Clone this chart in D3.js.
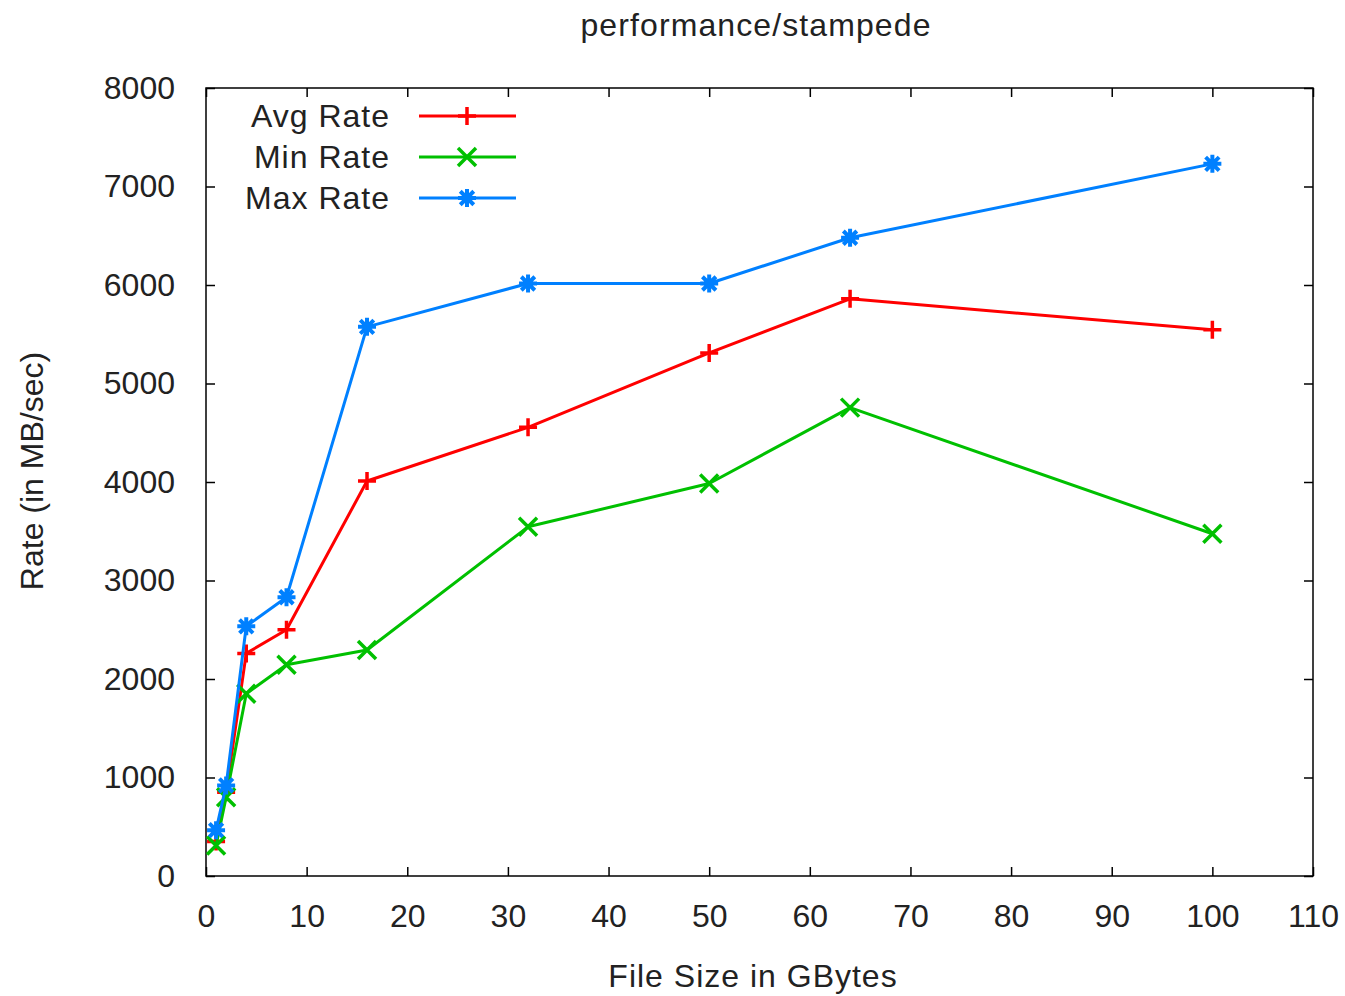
<!doctype html>
<html>
<head>
	<meta charset="utf-8">
	<title>performance/stampede</title>
	<style>
		body { margin: 0; background: #fff; }
		text { font-family: "Liberation Sans", Arial, sans-serif; fill: #222; }
		.label { letter-spacing: 1px; }
		.frame { fill: none; stroke: #000; stroke-width: 1.5; }
		.tick-mark { stroke: #000; stroke-width: 1.5; }
		.series { fill: none; stroke-width: 3; stroke-linejoin: round; }
	</style>
</head>
<body>
	<svg width="1345" height="996"></svg>

	<script src="https://d3js.org/d3.v7.min.js"></script>
	<script>

		// file sizes in GBytes
		const sizes = [ 1, 2, 4, 8, 16, 32, 50, 64, 100 ];

		const avgRate = [ 350, 850, 2260, 2500, 4010, 4555, 5310, 5860, 5545 ];
		const minRate = [ 310, 800, 1850, 2145, 2295, 3545, 3985, 4755, 3475 ];
		const maxRate = [ 465, 920, 2535, 2830, 5575, 6015, 6015, 6480, 7230 ];

		const xTicks = [ 0, 10, 20, 30, 40, 50, 60, 70, 80, 90, 100, 110 ];
		const yTicks = [ 0, 1000, 2000, 3000, 4000, 5000, 6000, 7000, 8000 ];

		const series = [
			{ name: "Avg Rate", values: avgRate, color: "#ff0000", marker: "plus" },
			{ name: "Min Rate", values: minRate, color: "#00c000", marker: "cross" },
			{ name: "Max Rate", values: maxRate, color: "#0080ff", marker: "star" }
		];

		const svg = d3.select( "svg" );

		const plotLeft = 206, plotRight = 1313, plotTop = 88, plotBottom = 876;

		const x = d3.scaleLinear().domain( [ 0, 110 ] ).range( [ plotLeft, plotRight ] );
		const y = d3.scaleLinear().domain( [ 0, 8000 ] ).range( [ plotBottom, plotTop ] );

		const tickLen = 9;

		// axes with inward ticks, mirrored like gnuplot
		const axisBottom = svg.append( "g" )
			.attr( "transform", "translate(0," + plotBottom + ")" )
			.call( d3.axisBottom( x ).tickValues( xTicks ).tickSizeInner( -tickLen ).tickSizeOuter( 0 ).tickPadding( 28 ).tickFormat( d3.format( "d" ) ) );

		const axisTop = svg.append( "g" )
			.attr( "transform", "translate(0," + plotTop + ")" )
			.call( d3.axisTop( x ).tickValues( xTicks ).tickSizeInner( -tickLen ).tickSizeOuter( 0 ).tickFormat( "" ) );

		const axisLeft = svg.append( "g" )
			.attr( "transform", "translate(" + plotLeft + ",0)" )
			.call( d3.axisLeft( y ).tickValues( yTicks ).tickSizeInner( -tickLen ).tickSizeOuter( 0 ).tickPadding( 31 ).tickFormat( d3.format( "d" ) ) );

		const axisRight = svg.append( "g" )
			.attr( "transform", "translate(" + plotRight + ",0)" )
			.call( d3.axisRight( y ).tickValues( yTicks ).tickSizeInner( -tickLen ).tickSizeOuter( 0 ).tickFormat( "" ) );

		[ axisBottom, axisTop, axisLeft, axisRight ].forEach( ( a ) => {
			a.select( ".domain" ).remove();
			a.selectAll( "line" ).attr( "class", "tick-mark" );
			a.selectAll( "text" )
				.style( "font-family", "'Liberation Sans', Arial, sans-serif" )
				.style( "font-size", "32px" )
				.attr( "fill", "#222" );
		});

		svg.append( "rect" )
			.attr( "class", "frame" )
			.attr( "x", plotLeft )
			.attr( "y", plotTop )
			.attr( "width", plotRight - plotLeft )
			.attr( "height", plotBottom - plotTop );

		// title and axis labels
		svg.append( "text" )
			.attr( "class", "label" )
			.attr( "x", 756 )
			.attr( "y", 36 )
			.attr( "text-anchor", "middle" )
			.style( "font-size", "32px" )
			.style( "letter-spacing", "1.1px" )
			.text( "performance/stampede" );

		svg.append( "text" )
			.attr( "class", "label" )
			.attr( "x", 753 )
			.attr( "y", 987 )
			.attr( "text-anchor", "middle" )
			.style( "font-size", "32px" )
			.text( "File Size in GBytes" );

		svg.append( "text" )
			.attr( "transform", "translate(43,471) rotate(-90)" )
			.attr( "text-anchor", "middle" )
			.style( "font-size", "32px" )
			.text( "Rate (in MB/sec)" );

		function drawMarker( sel, type, color ) {
			const s = 9;
			let d;
			if ( type === "plus" )
				d = "M" + -s + ",0H" + s + "M0," + -s + "V" + s;
			else if ( type === "cross" )
				d = "M" + -s + "," + -s + "L" + s + "," + s + "M" + -s + "," + s + "L" + s + "," + -s;
			else
				d = "M" + -s + ",0H" + s + "M0," + -s + "V" + s +
					"M" + -s * 0.75 + "," + -s * 0.75 + "L" + s * 0.75 + "," + s * 0.75 +
					"M" + -s * 0.75 + "," + s * 0.75 + "L" + s * 0.75 + "," + -s * 0.75;
			sel.append( "path" )
				.attr( "d", d )
				.attr( "fill", "none" )
				.attr( "stroke", color )
				.attr( "stroke-width", type === "star" ? 4 : 3.5 );
		}

		const line = d3.line()
			.x( ( d, i ) => x( sizes[ i ] ) )
			.y( ( d ) => y( d ) );

		series.forEach( ( s ) => {
			svg.append( "path" )
				.attr( "class", "series" )
				.attr( "stroke", s.color )
				.attr( "d", line( s.values ) );

			s.values.forEach( ( v, i ) => {
				const g = svg.append( "g" )
					.attr( "transform", "translate(" + x( sizes[ i ] ) + "," + y( v ) + ")" );
				drawMarker( g, s.marker, s.color );
			});
		});

		// legend
		const legend = svg.append( "g" );
		series.forEach( ( s, i ) => {
			const ly = 116 + i * 41;
			legend.append( "text" )
				.attr( "class", "label" )
				.attr( "x", 390 )
				.attr( "y", ly + 11 )
				.attr( "text-anchor", "end" )
				.style( "font-size", "32px" )
				.text( s.name );
			legend.append( "line" )
				.attr( "x1", 419 )
				.attr( "x2", 516 )
				.attr( "y1", ly )
				.attr( "y2", ly )
				.attr( "stroke", s.color )
				.attr( "stroke-width", 3 );
			const g = legend.append( "g" ).attr( "transform", "translate(467," + ly + ")" );
			drawMarker( g, s.marker, s.color );
		});

	</script>
</body>
</html>
